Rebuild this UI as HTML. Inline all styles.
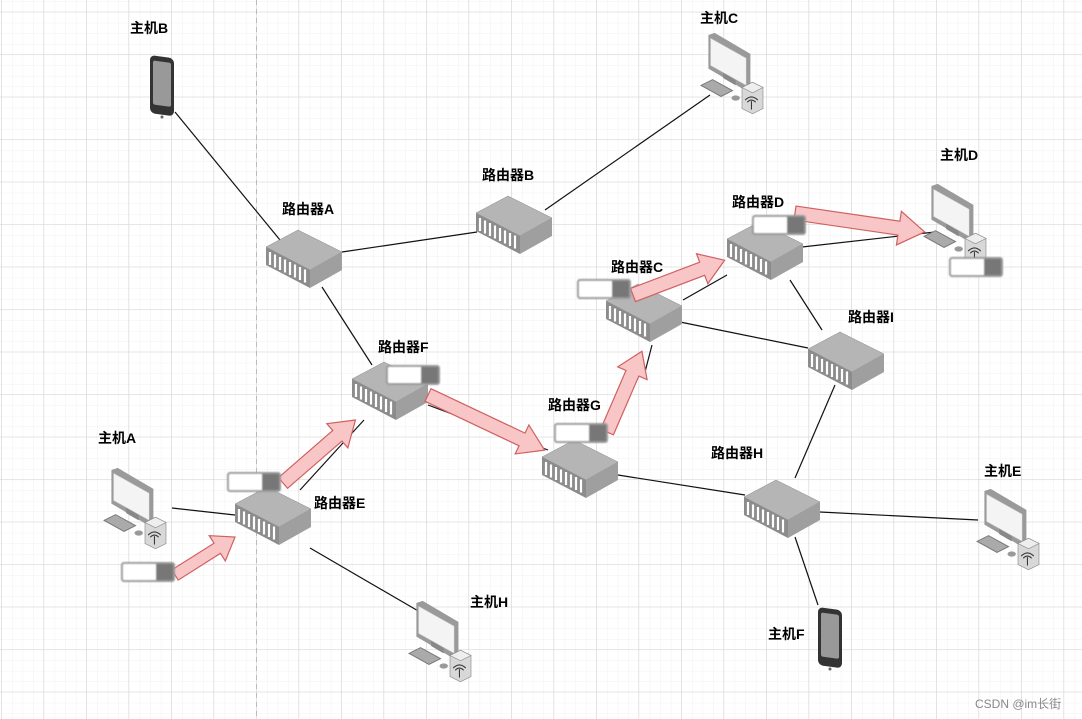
<!DOCTYPE html>
<html><head><meta charset="utf-8"><style>
html,body{margin:0;padding:0;background:#fff;}
svg{display:block;}
text{font-family:"Liberation Sans","Noto Sans CJK SC",sans-serif;font-weight:bold;font-size:14px;fill:#000;}
</style></head><body>
<svg width="1082" height="719" viewBox="0 0 1082 719" xmlns="http://www.w3.org/2000/svg">
<defs>
<pattern id="minor" width="10.625" height="10.625" patternUnits="userSpaceOnUse" x="2" y="2">
<path d="M10.625 0V10.625H0" fill="none" stroke="#f0f0f0" stroke-width="1"/>
</pattern>
<pattern id="major" width="42.5" height="42.5" patternUnits="userSpaceOnUse" x="1.5" y="12.2">
<path d="M42.5 0V42.5H0" fill="none" stroke="#d6d6d6" stroke-width="1"/>
</pattern>
<g id="router">
<polygon points="0,17 32,0 76,22 44,40" fill="#b5b5b5" stroke="#8a8a8a" stroke-width="0.5"/>
<polygon points="0,17 44,40 44,58 0,35" fill="#8c8c8c"/>
<polygon points="44,40 76,22 76,40 44,58" fill="#9f9f9f"/>
<g stroke="#fff" stroke-width="2.2">
<line x1="4" y1="22" x2="4" y2="35"/><line x1="9" y1="24.5" x2="9" y2="37.5"/><line x1="14" y1="27" x2="14" y2="40"/><line x1="19" y1="29.5" x2="19" y2="42.5"/><line x1="24" y1="32" x2="24" y2="45"/><line x1="29" y1="34.5" x2="29" y2="47.5"/><line x1="34" y1="37" x2="34" y2="50"/><line x1="39" y1="39.5" x2="39" y2="52.5"/>
</g>
</g>
<g id="pc">
<polygon points="8,0 14,-2 48,18 48,50 42,52 8,32" fill="#9a9a9a"/>
<polygon points="10,3 44,22 44,48 10,29" fill="#f4f4f4" stroke="#bbb" stroke-width="0.5"/>
<polygon points="22,36 34,43 34,48 22,41" fill="#888"/>
<polygon points="0,48 12,42 32,53 20,59" fill="#777"/>
<polygon points="2,48 12,43 30,53 20,58" fill="#aaa"/>
<ellipse cx="34" cy="60" rx="4" ry="2.5" fill="#999"/>
<polygon points="40,50 50,45 60,50 60,70 50,75 40,70" fill="#d8d8d8" stroke="#888" stroke-width="0.6"/>
<polygon points="40,50 50,45 60,50 50,55" fill="#eee" stroke="#888" stroke-width="0.6"/>
<path d="M43 62 q6 -6 12 0 M45 64 q4 -4 8 0" fill="none" stroke="#333" stroke-width="1"/>
<line x1="49" y1="63" x2="49" y2="71" stroke="#333" stroke-width="1"/>
</g>
<g id="phone">
<rect x="0" y="0" width="24" height="58" rx="5" fill="#333" transform="skewY(8)"/>
<rect x="3" y="5" width="18" height="44" rx="2" fill="#999" transform="skewY(8)"/>
<circle cx="12" cy="62" r="1.5" fill="#666"/>
</g>
<g id="tog">
<rect x="0" y="0" width="52" height="18" fill="#fff" stroke="#999" stroke-width="2" rx="2"/>
<rect x="34" y="1" width="17" height="16" fill="#777"/>
</g>
<filter id="bl"><feGaussianBlur stdDeviation="0.8"/></filter>
</defs>
<rect width="1082" height="719" fill="#fff"/>
<rect width="1082" height="719" fill="url(#minor)"/>
<rect width="1082" height="719" fill="url(#major)"/>
<line x1="256.5" y1="0" x2="256.5" y2="719" stroke="#bbb" stroke-dasharray="5,4"/>

<g stroke="#111" stroke-width="1.2">
<line x1="175" y1="112" x2="280" y2="240"/>
<line x1="342" y1="252" x2="477" y2="232"/>
<line x1="545" y1="210" x2="710" y2="95"/>
<line x1="322" y1="287" x2="372" y2="365"/>
<line x1="428" y1="405" x2="548" y2="450"/>
<line x1="300" y1="490" x2="364" y2="420"/>
<line x1="172" y1="508" x2="235" y2="515"/>
<line x1="310" y1="548" x2="420" y2="612"/>
<line x1="618" y1="475" x2="745" y2="495"/>
<line x1="820" y1="512" x2="978" y2="520"/>
<line x1="795" y1="537" x2="818" y2="605"/>
<line x1="795" y1="478" x2="835" y2="385"/>
<line x1="680" y1="322" x2="808" y2="348"/>
<line x1="652" y1="345" x2="645" y2="372"/>
<line x1="683" y1="300" x2="727" y2="275"/>
<line x1="790" y1="280" x2="822" y2="330"/>
<line x1="802" y1="247" x2="935" y2="232"/>
</g>

<use href="#router" x="266" y="230"/>
<use href="#router" x="476" y="196"/>
<use href="#router" x="606" y="284"/>
<use href="#router" x="727" y="222"/>
<use href="#router" x="352" y="362"/>
<use href="#router" x="542" y="440"/>
<use href="#router" x="744" y="480"/>
<use href="#router" x="808" y="332"/>
<use href="#router" x="235" y="487"/>

<g transform="translate(103,470) scale(1.05)"><use href="#pc"/></g>
<g transform="translate(700,35) scale(1.05)"><use href="#pc"/></g>
<g transform="translate(923,186) scale(1.05)"><use href="#pc"/></g>
<g transform="translate(976,491) scale(1.05)"><use href="#pc"/></g>
<g transform="translate(408,603) scale(1.05)"><use href="#pc"/></g>
<use href="#phone" x="150" y="55"/>
<use href="#phone" x="818" y="607"/>

<g fill="#f8c6c6" stroke="#d06060" stroke-width="1.2">
<g transform="translate(175,575) rotate(-32.3)"><polygon points="0,-6 50,-6 50,-15 71,0 50,15 50,6 0,6"/></g>
<g transform="translate(283,483) rotate(-41)"><polygon points="0,-7 72,-7 72,-16 96,0 72,16 72,7 0,7"/></g>
<g transform="translate(428,395) rotate(25.3)"><polygon points="0,-7 104,-7 104,-16 129,0 104,16 104,7 0,7"/></g>
<g transform="translate(607,432) rotate(-66.6)"><polygon points="0,-7 64,-7 64,-16 88,0 64,16 64,7 0,7"/></g>
<g transform="translate(633,295) rotate(-20.8)"><polygon points="0,-7 74,-7 74,-16 98,0 74,16 74,7 0,7"/></g>
<g transform="translate(795,213) rotate(8.3)"><polygon points="0,-7 105,-7 105,-17 131,0 105,17 105,7 0,7"/></g>
</g>

<g filter="url(#bl)">
<use href="#tog" x="122" y="563"/>
<use href="#tog" x="228" y="473"/>
<use href="#tog" x="387" y="366"/>
<use href="#tog" x="555" y="424"/>
<use href="#tog" x="578" y="280"/>
<use href="#tog" x="753" y="216"/>
<use href="#tog" x="950" y="258"/>
</g>

<text x="130" y="33">主机B</text>
<text x="282" y="214">路由器A</text>
<text x="482" y="180">路由器B</text>
<text x="700" y="23">主机C</text>
<text x="940" y="160">主机D</text>
<text x="732" y="207">路由器D</text>
<text x="611" y="272">路由器C</text>
<text x="848" y="322">路由器I</text>
<text x="378" y="352">路由器F</text>
<text x="548" y="410">路由器G</text>
<text x="711" y="458">路由器H</text>
<text x="98" y="443">主机A</text>
<text x="314" y="508">路由器E</text>
<text x="984" y="476">主机E</text>
<text x="470" y="607">主机H</text>
<text x="768" y="639">主机F</text>
<text x="975" y="708" style="font-weight:normal;font-size:12px;fill:#888">CSDN @im长街</text>
</svg>
</body></html>
